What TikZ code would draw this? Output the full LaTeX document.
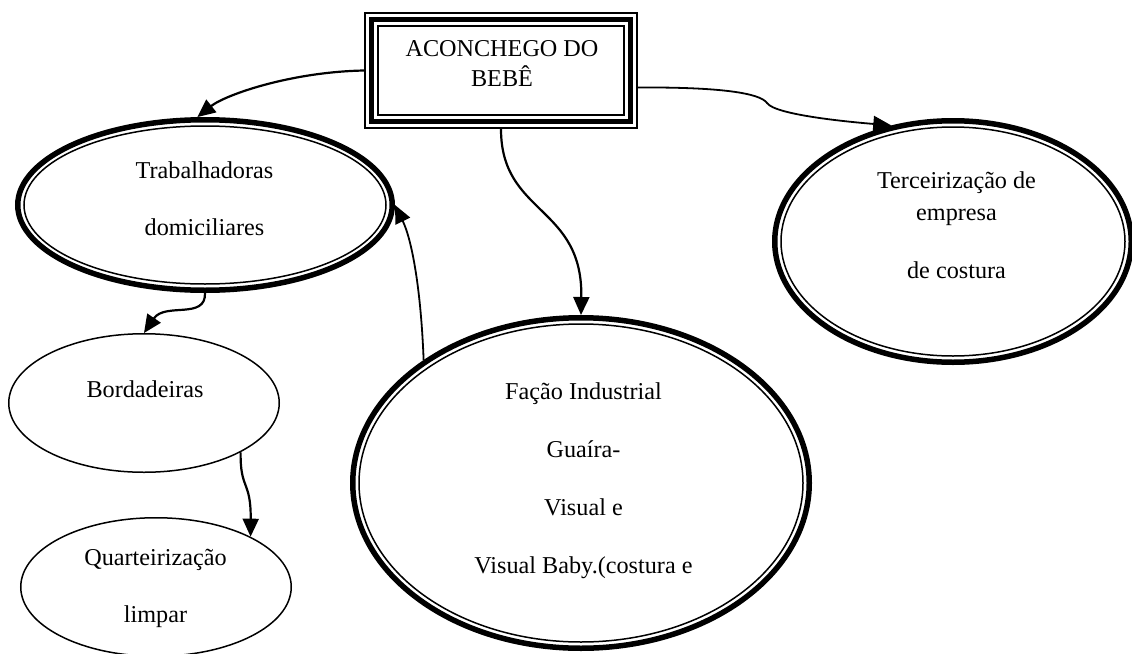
\documentclass[tikz,border=0pt]{standalone}
\usepackage{fontspec}
\setmainfont{Liberation Serif}
\usetikzlibrary{arrows.meta,calc,shapes.geometric}
\begin{document}
\begin{tikzpicture}[x=1pt,y=-1pt,
  txt/.style={anchor=north,inner sep=0pt,align=center,font=\fontsize{24.2}{30}\selectfont},
  dblell/.style={ellipse,draw,line width=5.5pt,inner sep=0pt},
  thinell/.style={ellipse,draw,line width=1.5pt,inner sep=0pt},
  innerline/.style={line width=1.5pt},
  conn/.style={line width=2.2pt,-{Triangle[length=18pt,width=16pt]}}]
\useasboundingbox (0,0) rectangle (1132,653);

% title box (thin - thick - thin frame)
\node[draw,line width=2.2pt,minimum width=272pt,minimum height=115pt,inner sep=0pt] (top) at (501,70.5) {};
\draw[line width=5pt] ($(top.north west)+(7.5,7.5)$) rectangle ($(top.south east)+(-7.5,-7.5)$);
\draw[line width=2.2pt] ($(top.north west)+(14,14)$) rectangle ($(top.south east)+(-14,-14)$);

% double ellipses
\node[dblell,minimum width=374.5pt,minimum height=170.5pt] (trab) at (205,205) {};
\draw[innerline] (trab.center) ellipse [x radius=181pt, y radius=79pt];
\node[dblell,minimum width=356.5pt,minimum height=241.5pt] (terc) at (953,241.5) {};
\draw[innerline] (terc.center) ellipse [x radius=172pt, y radius=114.5pt];
\node[dblell,minimum width=456.5pt,minimum height=330.5pt] (facao) at (581,483) {};
\draw[innerline] (facao.center) ellipse [x radius=222pt, y radius=159pt];

% single ellipses
\node[thinell,minimum width=270.5pt,minimum height=138.5pt] (bord) at (144,403) {};
\node[thinell,minimum width=270.5pt,minimum height=138.5pt] (quart) at (156,587) {};

% texts
\node[txt] (topT) at (502,40.5) {ACONCHEGO DO\\BEBÊ};
\node[txt] (trabT) at (204.5,161.5) {Trabalhadoras\\[27pt]domiciliares};
\node[txt] (tercT) at (956.5,171.5) {Terceirização de\\[2pt]empresa\\[28pt]de costura};
\node[txt] (facaoT) at (583.5,382.5) {Fação Industrial\\[28pt]Guaíra-\\[28pt]Visual e\\[28pt]Visual Baby.(costura e};
\node[txt] (bordT) at (145,380.5) {Bordadeiras};
\node[txt] (quartT) at (155.5,548.5) {Quarteirização\\[27pt]limpar};

% connectors
\draw[conn] (top.west) .. controls (290,72) and (225,95) .. (trab.95);
\draw[conn,line width=1.8pt] ($(top.east)+(0,17)$) .. controls (720,87) and (760,93) .. (767,103) .. controls (775,115) and (850,122) .. (terc.118);
\draw[conn] (top.south) .. controls (501,215) and (583,205) .. (facao.north);
\draw[conn,line width=1.8pt] (facao.142) .. controls (421,290) and (412,240) .. (trab.east);
\draw[conn] (trab.south) .. controls (206,320) and (165,302) .. (bord.north);
\draw[conn] (bord.-27) .. controls (240,490) and (251,480) .. (quart.28);
\end{tikzpicture}
\end{document}
